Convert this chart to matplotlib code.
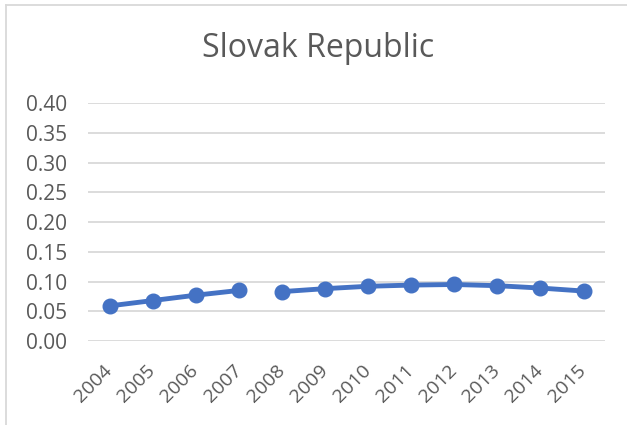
import matplotlib.pyplot as plt
from matplotlib.lines import Line2D

# data
years = [2004, 2005, 2006, 2007, 2008, 2009, 2010, 2011, 2012, 2013, 2014, 2015]
values = [0.059, 0.068, 0.077, 0.085, 0.083, 0.088, 0.092, 0.094, 0.095, 0.093, 0.089, 0.084]
# line is broken between 2007 and 2008
segments = [(0, 4), (4, 12)]

plt.rcParams['font.family'] = ['Open Sans', 'DejaVu Sans']

fig = plt.figure(figsize=(6.27, 4.25), dpi=100)
ax = fig.add_axes([0.1404, 0.1976, 0.8246, 0.56])

blue = '#4472C4'
for a, b in segments:
    xs = list(range(a, b))
    ax.plot(xs, values[a:b], color=blue, linewidth=3.5, marker='o',
            markersize=10.5, solid_capstyle='round', zorder=3)

ax.set_xlim(-0.5, len(years) - 0.5)
ax.set_ylim(0, 0.40)
ax.set_yticks([i * 0.05 for i in range(9)])
ax.set_yticklabels(['%.2f' % (i * 0.05) for i in range(9)])
ax.set_xticks(range(len(years)))
ax.set_xticklabels([str(y) for y in years], rotation=45, ha='right',
                   va='center', rotation_mode='anchor')

ax.grid(axis='y', color='#D9D9D9', linewidth=1.3)
ax.set_axisbelow(True)
for s in ax.spines.values():
    s.set_visible(False)
ax.tick_params(axis='y', length=0, labelsize=15, colors='#595959', pad=15)
ax.tick_params(axis='x', length=0, labelsize=14, colors='#595959', pad=19)

fig.text(0.507, 0.885, 'Slovak Republic', ha='center', va='center',
         fontsize=23, color='#595959')

# chart frame (partly outside the picture)
fig.add_artist(Line2D([6 / 627, 6 / 627], [0, 1 - 5 / 425], color='#D9D9D9', linewidth=1.3))
fig.add_artist(Line2D([6 / 627, 1], [1 - 5 / 425, 1 - 5 / 425], color='#D9D9D9', linewidth=1.3))

fig.savefig('out.png', dpi=100)
